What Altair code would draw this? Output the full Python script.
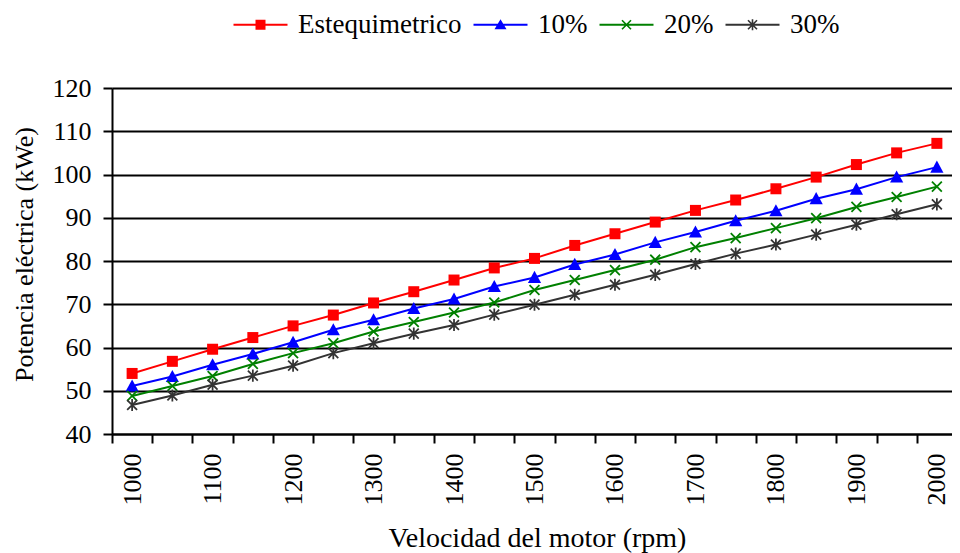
import altair as alt
import pandas as pd

rpm = [1000, 1050, 1100, 1150, 1200, 1250, 1300, 1350, 1400, 1450, 1500,
       1550, 1600, 1650, 1700, 1750, 1800, 1850, 1900, 1950, 2000]

series = ["Estequimetrico", "10%", "20%", "30%"]

esteq = [54.0, 56.8, 59.6, 62.3, 65.0, 67.5, 70.3, 72.9, 75.6, 78.4, 80.6,
         83.6, 86.3, 89.0, 91.7, 94.1, 96.7, 99.4, 102.3, 105.0, 107.2]
p10 = [51.1, 53.3, 56.0, 58.5, 61.2, 64.1, 66.4, 69.0, 71.2, 74.1, 76.2,
       79.2, 81.5, 84.3, 86.7, 89.3, 91.6, 94.4, 96.6, 99.4, 101.7]
p20 = [48.8, 51.1, 53.4, 56.2, 58.7, 61.0, 63.7, 65.9, 68.1, 70.4, 73.3,
       75.6, 77.9, 80.3, 83.2, 85.3, 87.6, 89.9, 92.5, 94.8, 97.2]
p30 = [46.7, 48.9, 51.4, 53.5, 55.8, 58.7, 61.0, 63.2, 65.2, 67.6, 69.9,
       72.2, 74.5, 76.8, 79.3, 81.7, 83.8, 86.1, 88.4, 90.8, 93.1]

y_ticks = [40, 50, 60, 70, 80, 90, 100, 110, 120]

colors = ["#FF0000", "#0000FF", "#008000", "#333333"]

# marker shapes (unit box paths)
SQ = "M-1,-1H1V1H-1Z"
TRI = "M0,-1.2L1.2,1L-1.2,1Z"
XS = ("M-0.785,-1.015L1.015,0.785L0.785,1.015L-1.015,-0.785Z"
      "M1.015,-0.785L-0.785,1.015L-1.015,0.785L0.785,-1.015Z")
VB = "M-0.16,-1.1L0.16,-1.1L0.16,1.1L-0.16,1.1Z"
marker_paths = [SQ, TRI, XS, XS + VB]

LINE = "M-5.4,-0.2H5.4V0.2H-5.4Z"
TRI_L = "M0,-1.1L1.2,0.9L-1.2,0.9Z"
legend_paths = [LINE + SQ, LINE + TRI_L, LINE + XS, LINE + XS + VB]

rows = []
for name, vals in zip(series, [esteq, p10, p20, p30]):
    for r, v in zip(rpm, vals):
        rows.append({"rpm": r, "serie": name, "kWe": v})
df = pd.DataFrame(rows)

FONT = "Liberation Serif"

x_enc = alt.X(
    "rpm:O",
    scale=alt.Scale(type="band", paddingInner=0, paddingOuter=0, range=[0, 845]),
    bandPosition=0.5,
    axis=alt.Axis(
        tickBand="extent", labelAngle=270,
        labelExpr="datum.value % 100 == 0 ? datum.label : ''",
        tickSize=9, labelPadding=10, labelFontSize=26, labelFont=FONT,
        labelColor="black", labelOverlap=False,
        grid=False, domainColor="black", domainWidth=2,
        tickColor="black", tickWidth=2,
        title="Velocidad del motor (rpm)", titleFont=FONT, titleFontSize=28,
        titleFontWeight="normal", titleColor="black",
        titleX=425, titleY=112, titleAlign="center", titleBaseline="alphabetic",
    ),
)
y_enc = alt.Y(
    "kWe:Q",
    scale=alt.Scale(domain=[40, 120], nice=False, zero=False),
    axis=alt.Axis(
        values=y_ticks, tickSize=9, labelPadding=12, labelFontSize=26,
        labelFont=FONT, labelColor="black",
        grid=True, gridColor="black", gridWidth=2,
        domainColor="black", domainWidth=2, tickColor="black", tickWidth=2,
        title="Potencia eléctrica (kWe)", titleFont=FONT, titleFontSize=26,
        titleFontWeight="normal", titleColor="black",
        titleAngle=270, titleX=-88, titleY=166, titleAlign="center",
        titleBaseline="middle",
    ),
)

color_scale = alt.Scale(domain=series, range=colors)

leg = alt.Legend(
    title=None, orient="none", legendX=135, legendY=-77,
    direction="horizontal", labelFont=FONT, labelFontSize=27,
    labelColor="black", labelOffset=24, columnPadding=8,
    symbolOpacity=1, symbolSize=100, padding=0, labelLimit=400,
)

base = alt.Chart(df)

lines = base.mark_line(strokeWidth=2).encode(
    x=x_enc, y=y_enc,
    color=alt.Color("serie:N", scale=color_scale, legend=None),
    detail="serie:N",
)

points = base.mark_point(filled=True, size=121, opacity=1).encode(
    x=x_enc, y=y_enc,
    color=alt.Color("serie:N", scale=color_scale, legend=None),
    shape=alt.Shape("serie:N", scale=alt.Scale(domain=series, range=marker_paths), legend=None),
)

legend_layer = base.mark_point(filled=True, size=100, opacity=0).encode(
    x=x_enc, y=y_enc,
    color=alt.Color("serie:N", scale=color_scale, legend=leg),
    shape=alt.Shape("serie:N", scale=alt.Scale(domain=series, range=legend_paths), legend=leg),
)

chart = (
    alt.layer(lines, points, legend_layer)
    .resolve_scale(shape="independent", color="independent")
    .properties(
        width=840, height=346,
        autosize=alt.AutoSizeParams(type="none"),
        padding={"left": 104, "top": 80, "right": 0, "bottom": 119},
        background="white",
    )
    .configure_view(stroke=None)
)

chart.save("out.html", embed_options={"renderer": "svg", "actions": False})
